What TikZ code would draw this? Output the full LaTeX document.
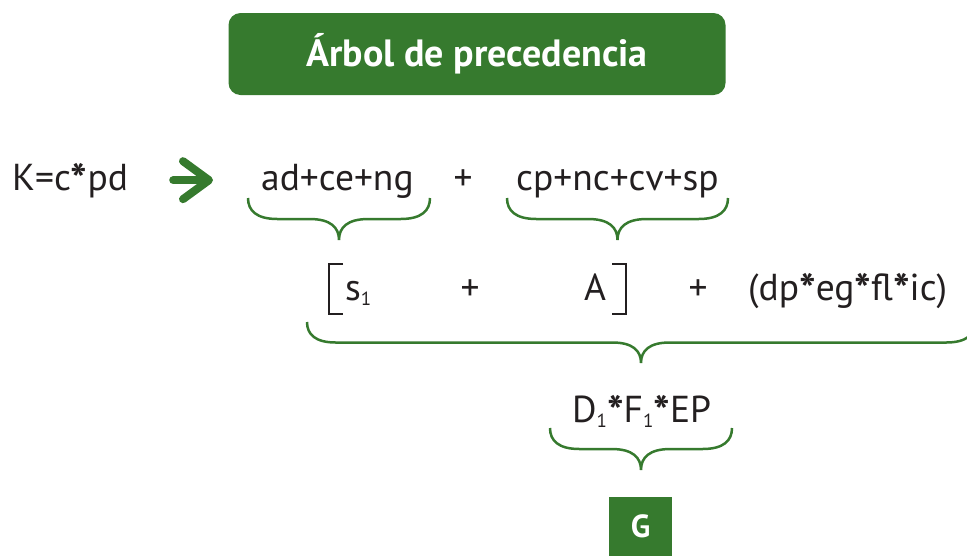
\documentclass[tikz,border=0pt]{standalone}
\usepackage{fontspec}
\setmainfont{PT Sans}
\usetikzlibrary{arrows.meta}

\definecolor{leafgreen}{RGB}{54,122,46}
\definecolor{inkgray}{RGB}{35,31,32}

\newcommand{\mulstar}{\raisebox{-5pt}{\fontsize{44}{44}\selectfont\bfseries *}}
\newcommand{\lowone}{\raisebox{-5pt}{\fontsize{19}{19}\selectfont 1}}

\tikzset{
  term/.style={anchor=base west, inner sep=0pt, text=inkgray, font=\fontsize{37.5}{42}\selectfont},
  plus/.style={term, anchor=base},
  brace line/.style={draw=leafgreen, line width=2.5pt},
  bracket line/.style={draw=inkgray, line width=2.5pt},
  title box/.style={fill=leafgreen, rounded corners=12pt, text=white, font=\bfseries\fontsize{38}{42}\selectfont, minimum width=497pt, minimum height=82pt},
  result box/.style={fill=leafgreen, text=white, font=\bfseries\fontsize{32}{36}\selectfont, minimum width=63pt, minimum height=59pt},
  then arrow/.style={draw=leafgreen, line width=8pt, line cap=round, -{Straight Barb[length=26pt, width=38pt, round]}}
}

\begin{document}
\begin{tikzpicture}[x=1pt,y=1pt]
\useasboundingbox (0,0) rectangle (967,-555);

%title
\node[title box] (title) at (477,-54) {Árbol de precedencia};

%first row
\node[term] (k) at (12,-190) {K=c\mulstar pd};
\node[term] (ad) at (261,-190) {ad+ce+ng};
\node[plus] (plus1) at (463,-190) {+};
\node[term] (cp) at (516,-190) {cp+nc+cv+sp};
\draw[then arrow, shorten <=45pt, shorten >=48pt] (k.east) -- (k.east -| ad.west);

%second row
\node[term] (s1) at (345,-300) {s\lowone};
\node[plus] (plus2) at (470,-300) {+};
\node[term] (a) at (584,-300) {A};
\node[plus] (plus3) at (698,-300) {+};
\node[term] (dp) at (748,-300) {(dp\mulstar eg\mulstar fl\mulstar ic)};
\draw[bracket line] (343,-264) -- (329,-264) -- (329,-314) -- (343,-314);
\draw[bracket line] (612,-264) -- (626,-264) -- (626,-314) -- (612,-314);

%third row and result
\node[term] (d1) at (572,-422) {D\lowone\mulstar F\lowone\mulstar EP};
\node[result box] (g) at (640.5,-526.5) {G};

%braces: left/right/top/depth
\foreach \l/\r/\t/\d in {248/430/198/42, 507/728/198/42, 307/975/322/41, 550/732/428/42}
  {
  \draw[brace line] (\l,-\t) .. controls (\l,-\t-0.3*\d) and (\l+0.2*\d,-\t-0.5*\d) .. (\l+0.7*\d,-\t-0.5*\d)
    -- ({(\l+\r)/2-0.7*\d},-\t-0.5*\d) .. controls ({(\l+\r)/2-0.2*\d},-\t-0.5*\d) and ({(\l+\r)/2},-\t-0.7*\d) .. ({(\l+\r)/2},-\t-\d)
    .. controls ({(\l+\r)/2},-\t-0.7*\d) and ({(\l+\r)/2+0.2*\d},-\t-0.5*\d) .. ({(\l+\r)/2+0.7*\d},-\t-0.5*\d)
    -- (\r-0.7*\d,-\t-0.5*\d) .. controls (\r-0.2*\d,-\t-0.5*\d) and (\r,-\t-0.3*\d) .. (\r,-\t);
  }

\end{tikzpicture}
\end{document}
